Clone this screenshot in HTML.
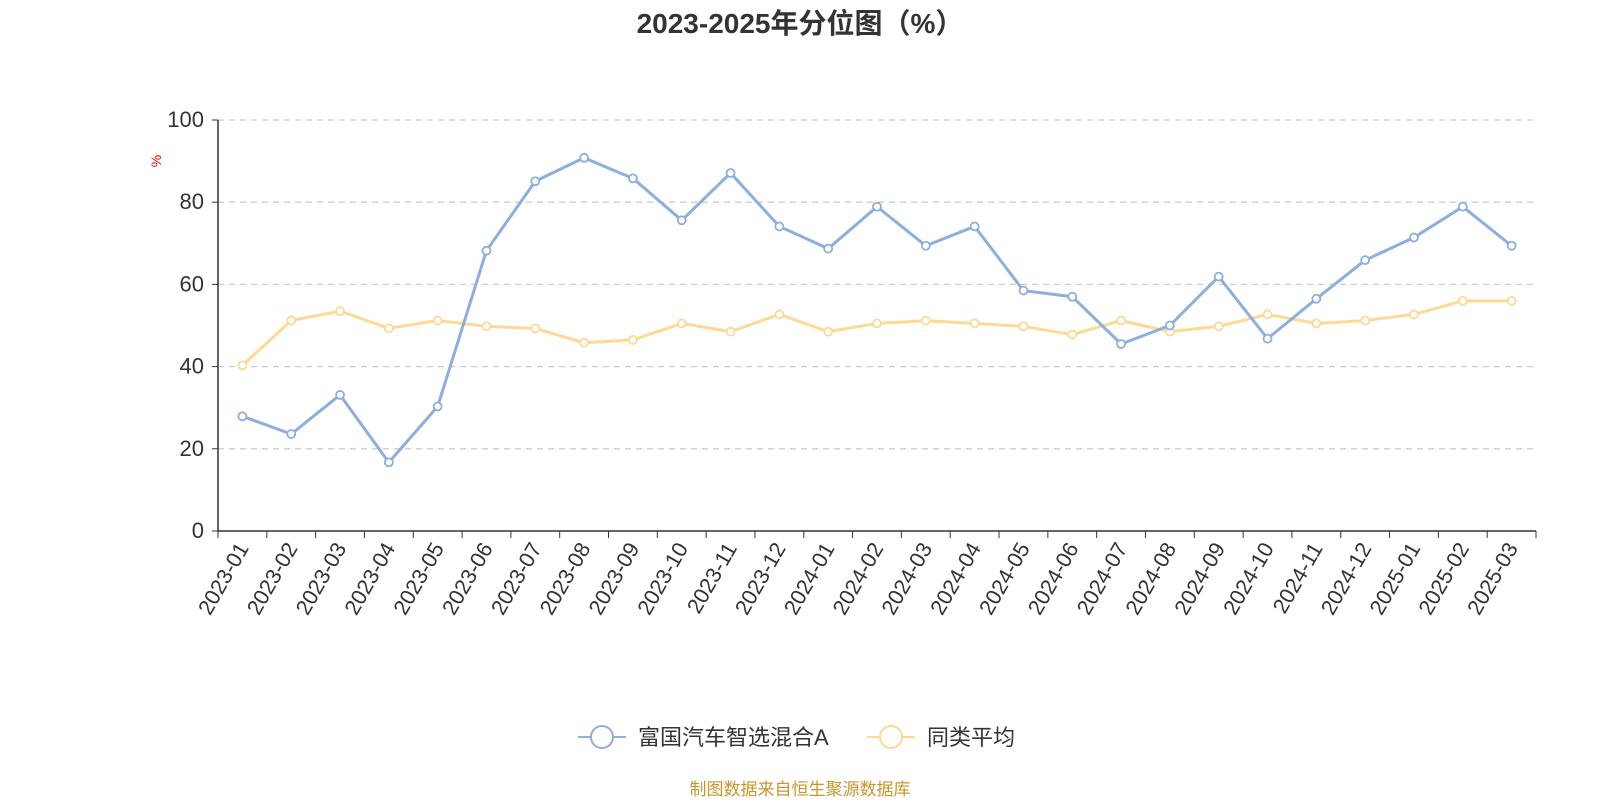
<!DOCTYPE html>
<html><head><meta charset="utf-8"><style>
body{margin:0;background:#fff;font-family:"Liberation Sans","Noto Sans CJK SC",sans-serif;}
svg text{font-family:"Liberation Sans","Noto Sans CJK SC",sans-serif;}
</style></head><body>
<svg id="chart" width="1600" height="800" xmlns="http://www.w3.org/2000/svg">
<text x="800" y="33" text-anchor="middle" font-size="28" font-weight="bold" fill="#333">2023-2025年分位图（%）</text>
<text x="0" y="0" transform="translate(161,161) rotate(-90)" text-anchor="middle" font-size="14" fill="#e00">%</text>
<g id="grid"></g>
<g id="axes"></g>
<g id="series"></g>
<g>
<g>
<line x1="578" y1="737" x2="626" y2="737" stroke="#8eaedc" stroke-width="2"/>
<circle cx="602" cy="737" r="11" fill="#fff" stroke="#8eaedc" stroke-width="2"/>
<text x="638" y="745" font-size="22" fill="#333">富国汽车智选混合A</text></g>
<g>
<line x1="867" y1="737" x2="915" y2="737" stroke="#fdd995" stroke-width="2"/>
<circle cx="891" cy="737" r="11" fill="#fff" stroke="#fdd995" stroke-width="2"/>
<text x="927" y="745" font-size="22" fill="#333">同类平均</text></g>
</g>
<text x="800" y="795" text-anchor="middle" font-size="17" fill="#c8962e">制图数据来自恒生聚源数据库</text>
</svg>
<script>
const categories=["2023-01","2023-02","2023-03","2023-04","2023-05","2023-06","2023-07","2023-08","2023-09","2023-10","2023-11","2023-12","2024-01","2024-02","2024-03","2024-04","2024-05","2024-06","2024-07","2024-08","2024-09","2024-10","2024-11","2024-12","2025-01","2025-02","2025-03"];
const fundValues=[27.9,23.6,33.1,16.7,30.3,68.2,85.1,90.8,85.8,75.6,87.1,74.1,68.7,78.9,69.4,74.1,58.5,57.0,45.5,50.0,61.9,46.8,56.5,65.9,71.4,78.9,69.4];
const avgValues=[40.3,51.2,53.5,49.3,51.2,49.8,49.3,45.8,46.5,50.5,48.5,52.7,48.5,50.5,51.2,50.5,49.8,47.8,51.2,48.5,49.8,52.7,50.5,51.2,52.7,56.0,56.0];
const yTicks=[0,20,40,60,80,100];
const NS="http://www.w3.org/2000/svg";
const L=218,R=1536,T=120,B=531,step=(R-L)/categories.length;
const xs=i=>L+step*(i+0.5), ys=v=>B-(v/100)*(B-T);
function mk(tag,attrs,parent){const e=document.createElementNS(NS,tag);for(const k in attrs)e.setAttribute(k,attrs[k]);parent.appendChild(e);return e;}
const grid=document.getElementById('grid'),axes=document.getElementById('axes'),series=document.getElementById('series');
yTicks.forEach(t=>{
  if(t>0){const g=mk('line',{x1:L,x2:R,y1:ys(t),y2:ys(t),stroke:'#ccc','stroke-dasharray':'6,5','stroke-width':1.3},grid);
  
  }
  const tx=mk('text',{x:L-14,y:ys(t)+7,'text-anchor':'end','font-size':22,fill:'#333'},axes);tx.textContent=t;
  
  
  mk('line',{x1:L-6,x2:L,y1:ys(t),y2:ys(t),stroke:'#333'},axes);
});
mk('line',{x1:L,x2:L,y1:T,y2:B,stroke:'#333','stroke-width':1.5},axes);
mk('line',{x1:L,x2:R,y1:B,y2:B,stroke:'#333','stroke-width':1.5},axes);
for(let i=0;i<=categories.length;i++)mk('line',{x1:L+step*i,x2:L+step*i,y1:B,y2:B+7,stroke:'#333'},axes);
categories.forEach((c,i)=>{
  const t=mk('text',{'text-anchor':'end','font-size':21.5,fill:'#333',transform:`translate(${xs(i)+7},${B+17}) rotate(-60)`},axes);t.textContent=c;
  
  
});
function drawSeries(vals,color,name){
  const p=mk('polyline',{points:vals.map((v,i)=>xs(i)+','+ys(v)).join(' '),fill:'none',stroke:color,'stroke-width':3},series);
  
  
  vals.forEach((v,i)=>{const c=mk('circle',{cx:xs(i),cy:ys(v),r:4,fill:'#fff',stroke:color,'stroke-width':1.8},series);
    
    });
}
drawSeries(avgValues,'#fdd995','average');
drawSeries(fundValues,'#8eaedc','fund');
</script>
</body></html>
